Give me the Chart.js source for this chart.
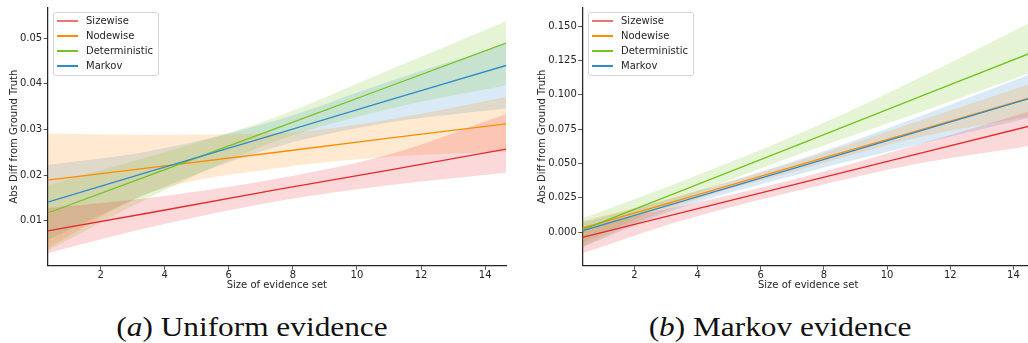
<!DOCTYPE html>
<html>
<head>
<meta charset="utf-8">
<script src="https://cdn.jsdelivr.net/npm/chart.js@4.4.0/dist/chart.umd.min.js"></script>
<style>
  html, body { margin: 0; padding: 0; background: #fff; overflow: hidden; }
  body { width: 1028px; height: 343px; position: relative; }
  canvas { position: absolute; top: 0; }
  .legend { position: absolute; top: 12px; width: 104px; height: 62px; border: 1px solid #d6d6d6; border-radius: 3px;
            background: rgba(255,255,255,0.8); font: 10px "DejaVu Sans"; color: #262626; }
  .legend .row { position: absolute; left: 0; width: 100%; height: 12px; line-height: 12px; }
  .legend .h { position: absolute; left: 3px; width: 21px; }
  .legend .t { position: absolute; left: 32px; top: 0; white-space: nowrap; }
  .caption { position: absolute; top: 314px; width: 400px; text-align: center; font: 27px "Liberation Serif";
             line-height: 27px; color: #111; white-space: nowrap; transform: scaleX(1.16); }
</style>
</head>
<body>
<canvas id="chartA" width="520" height="300" style="left:0"></canvas>
<canvas id="chartB" width="514" height="300" style="left:520px"></canvas>
<div class="legend" id="legendA" style="left:53px"></div>
<div class="legend" id="legendB" style="left:588px"></div>
<div class="caption" style="left:51.5px">(<i>a</i>) Uniform evidence</div>
<div class="caption" style="left:579.5px">(<i>b</i>) Markov evidence</div>
<script>
// x 位置（回归线和置信带的取样点）
const xPts = [0.35, 3.5, 7.5, 11, 14.65];
const xTicks = [2, 4, 6, 8, 10, 12, 14];
const seriesNames = ['Sizewise', 'Nodewise', 'Deterministic', 'Markov'];
const seriesColors = ['#e8292c', '#ff8c00', '#72c41e', '#2f8ccc'];

// (a) Uniform evidence
const yTicksA = [0.01, 0.02, 0.03, 0.04, 0.05];
const uSizewise = [0.0078, 0.0117, 0.0168, 0.0211, 0.0257];
const uSizewiseHi = [0.0128, 0.0150, 0.0192, 0.0245, 0.0334];
const uSizewiseLo = [0.0029, 0.0085, 0.0143, 0.0178, 0.0205];
const uNodewise = [0.0189, 0.0216, 0.0250, 0.0281, 0.0312];
const uNodewiseHi = [0.0291, 0.0288, 0.0292, 0.0322, 0.0371];
const uNodewiseLo = [0.0040, 0.0160, 0.0215, 0.0240, 0.0251];
const uDeterministic = [0.0117, 0.0199, 0.0303, 0.0394, 0.0489];
const uDeterministicHi = [0.0178, 0.0240, 0.0328, 0.0430, 0.0537];
const uDeterministicLo = [0.0035, 0.0150, 0.0275, 0.0345, 0.0396];
const uMarkov = [0.0141, 0.0207, 0.0290, 0.0364, 0.0440];
const uMarkovHi = [0.0222, 0.0252, 0.0320, 0.0405, 0.0487];
const uMarkovLo = [0.0058, 0.0160, 0.0262, 0.0315, 0.0346];

// (b) Markov evidence
const yTicksB = [0, 0.025, 0.05, 0.075, 0.1, 0.125, 0.15];
const mSizewise = [-0.0038, 0.0142, 0.0371, 0.0571, 0.0780];
const mSizewiseHi = [0.0040, 0.0190, 0.0410, 0.0640, 0.0890];
const mSizewiseLo = [-0.0155, 0.0085, 0.0320, 0.0500, 0.0633];
const mNodewise = [0.0028, 0.0239, 0.0507, 0.0741, 0.0986];
const mNodewiseHi = [0.0080, 0.0270, 0.0540, 0.0810, 0.1090];
const mNodewiseLo = [-0.0105, 0.0200, 0.0470, 0.0690, 0.0850];
const mDeterministic = [0.0016, 0.0302, 0.0665, 0.0983, 0.1314];
const mDeterministicHi = [0.0100, 0.0370, 0.0745, 0.1120, 0.1540];
const mDeterministicLo = [-0.0080, 0.0240, 0.0590, 0.0870, 0.1170];
const mMarkov = [0.0008, 0.0223, 0.0495, 0.0734, 0.0983];
const mMarkovHi = [0.0070, 0.0265, 0.0550, 0.0840, 0.1160];
const mMarkovLo = [-0.0110, 0.0180, 0.0440, 0.0640, 0.0840];

const textColor = '#262626';
const font10 = { family: 'DejaVu Sans', size: 10 };

function rgba(hex, a) {
  const n = parseInt(hex.slice(1), 16);
  return 'rgba(' + (n >> 16) + ',' + ((n >> 8) & 255) + ',' + (n & 255) + ',' + a + ')';
}
function pts(vals) {
  return vals.map((v, i) => ({ x: xPts[i], y: v }));
}

// 每个系列：上界（填充到下界）、下界、回归线
function buildDatasets(lines, his, los) {
  const bands = [], marks = [];
  lines.forEach((vals, i) => {
    const c = seriesColors[i];
    bands.push({ data: pts(his[i]), borderWidth: 0, pointRadius: 0, fill: '+1',
      backgroundColor: rgba(c, 0.18), cubicInterpolationMode: 'monotone', order: 20 + i * 2 });
    bands.push({ data: pts(los[i]), borderWidth: 0, pointRadius: 0, fill: false,
      backgroundColor: rgba(c, 0.18), cubicInterpolationMode: 'monotone', order: 21 + i * 2 });
    marks.push({ label: seriesNames[i], data: pts(vals), borderColor: c, borderWidth: 1.3,
      pointRadius: 0, fill: false, tension: 0, order: 3 - i });
  });
  return bands.concat(marks);
}

function makeChart(id, datasets, yMin, yMax, yTicks, digits, yAxisWidth, yTitlePad, padRight) {
  return new Chart(document.getElementById(id).getContext('2d'), {
    type: 'line',
    data: { datasets: datasets },
    options: {
      responsive: false,
      animation: false,
      layout: { padding: { top: 7, right: padRight, left: 0, bottom: 0 } },
      plugins: { legend: { display: false }, tooltip: { enabled: false } },
      scales: {
        x: {
          type: 'linear', min: 0.35, max: 14.65,
          afterBuildTicks: s => { s.ticks = xTicks.map(v => ({ value: v })); },
          afterFit: s => { s.height = 34.3; },
          ticks: { padding: 0, color: textColor, font: font10, maxRotation: 0, autoSkip: false },
          grid: { drawOnChartArea: false, tickLength: 4, tickColor: textColor, tickWidth: 0.8 },
          border: { color: textColor, width: 1.25 },
          title: { display: true, text: 'Size of evidence set', color: textColor, font: font10,
                   padding: { top: 0, bottom: 9 } }
        },
        y: {
          type: 'linear', min: yMin, max: yMax,
          afterBuildTicks: s => { s.ticks = yTicks.map(v => ({ value: v })); },
          afterFit: s => { s.width = yAxisWidth; },
          ticks: { padding: 1.5, color: textColor, font: font10, callback: v => v.toFixed(digits) },
          grid: { drawOnChartArea: false, tickLength: 4, tickColor: textColor, tickWidth: 0.8 },
          border: { color: textColor, width: 1.25 },
          title: { display: true, text: 'Abs Diff from Ground Truth', color: textColor, font: font10,
                   padding: { top: yTitlePad, bottom: 0 } }
        }
      }
    }
  });
}

makeChart('chartA',
  buildDatasets([uSizewise, uNodewise, uDeterministic, uMarkov],
                [uSizewiseHi, uNodewiseHi, uDeterministicHi, uMarkovHi],
                [uSizewiseLo, uNodewiseLo, uDeterministicLo, uMarkovLo]),
  0.00016, 0.0567, yTicksA, 2, 47.7, 8, 14);

makeChart('chartB',
  buildDatasets([mSizewise, mNodewise, mDeterministic, mMarkov],
                [mSizewiseHi, mNodewiseHi, mDeterministicHi, mMarkovHi],
                [mSizewiseLo, mNodewiseLo, mDeterministicLo, mMarkovLo]),
  -0.0245, 0.1636, yTicksB, 3, 62.3, 16, 0);

// 图例
['legendA', 'legendB'].forEach(id => {
  const box = document.getElementById(id);
  seriesNames.forEach((name, i) => {
    const row = document.createElement('div');
    row.className = 'row';
    row.style.top = Math.round(2 + i * 15.1) + 'px';
    const w = i === 0 ? 2 : 1.5;
    const col = i === 0 ? rgba(seriesColors[i], 0.65) : seriesColors[i];
    row.innerHTML = '<span class="h" style="height:' + w + 'px;top:5px;background:' + col + '"></span>' +
                    '<span class="t">' + name + '</span>';
    box.appendChild(row);
  });
});
</script>
</body>
</html>
